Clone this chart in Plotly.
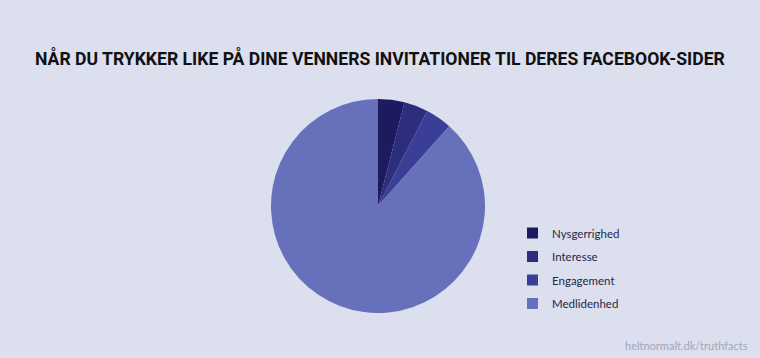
import plotly.graph_objects as go

labels = ["Nysgerrighed", "Interesse", "Engagement", "Medlidenhed"]
values = [4.0, 3.6, 4.0, 88.4]
colors = ["#1d1a5f", "#2d2d7d", "#3a3e96", "#6670bb"]
title = "NÅR DU TRYKKER LIKE PÅ DINE VENNERS INVITATIONER TIL DERES FACEBOOK-SIDER"
credit = "heltnormalt.dk/truthfacts"

W, H = 760, 358
cx, cy, r = 378, 206, 107

fig = go.Figure(go.Pie(
    labels=labels, values=values, sort=False, direction="clockwise", rotation=0,
    marker=dict(colors=colors, line=dict(width=0)),
    textinfo="none", hoverinfo="label+percent", showlegend=False,
    domain=dict(x=[(cx - r) / W, (cx + r) / W], y=[(H - cy - r) / H, (H - cy + r) / H]),
))

shapes = []
annotations = []
lx0, ly0, step, sq = 527, 233, 23.5, 11
for i, (lab, col) in enumerate(zip(labels, colors)):
    yc = ly0 + i * step
    shapes.append(dict(type="rect", xref="paper", yref="paper",
                       x0=lx0 / W, x1=(lx0 + sq) / W,
                       y0=1 - (yc + sq / 2) / H, y1=1 - (yc - sq / 2) / H,
                       fillcolor=col, line=dict(width=0)))
    annotations.append(dict(text=lab, xref="paper", yref="paper", x=550 / W, y=1 - yc / H,
                            xanchor="left", yanchor="middle", showarrow=False,
                            font=dict(family="Lato", size=11.5, color="#26264a")))

annotations.append(dict(text=title, xref="paper", yref="paper", x=380 / W, y=1 - 58 / H,
                        xanchor="center", yanchor="middle", showarrow=False,
                        font=dict(family="Roboto", size=17.6, weight="bold", color="#111111")))
annotations.append(dict(text=credit, xref="paper", yref="paper", x=750 / W, y=1 - 345 / H,
                        xanchor="right", yanchor="middle", showarrow=False,
                        font=dict(family="Lato", size=11, color="#a3a6b8")))

fig.update_layout(
    width=W, height=H, margin=dict(l=0, r=0, t=0, b=0),
    paper_bgcolor="#dcdfee", plot_bgcolor="#dcdfee",
    shapes=shapes, annotations=annotations,
)
fig.write_html("out.html")
